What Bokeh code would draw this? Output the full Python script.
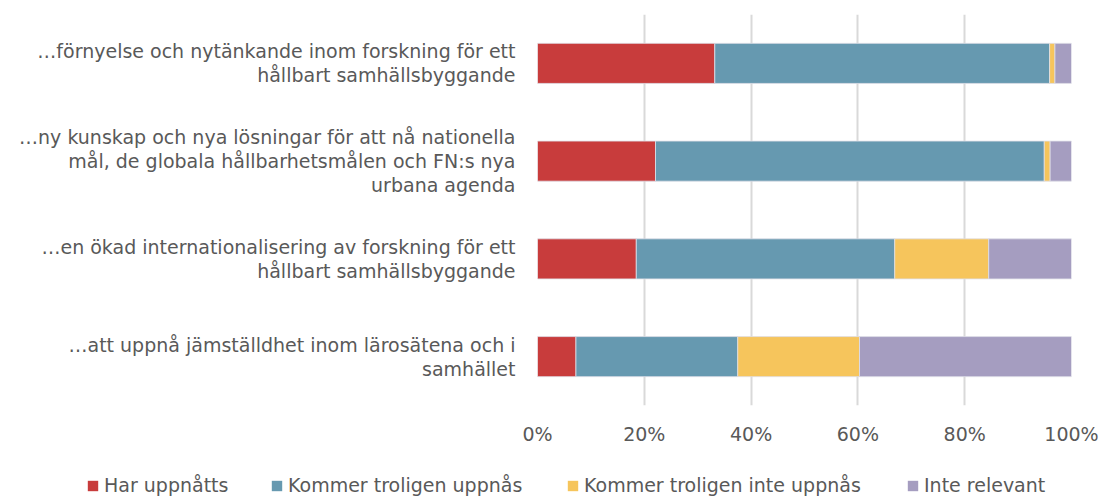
from bokeh.plotting import figure
from bokeh.layouts import column, row
from bokeh.models import NumeralTickFormatter, FixedTicker, Legend, LegendItem
from bokeh.embed import file_html
from bokeh.resources import INLINE

categories = [
    "…förnyelse och nytänkande inom forskning för ett\nhållbart samhällsbyggande",
    "…ny kunskap och nya lösningar för att nå nationella\nmål, de globala hållbarhetsmålen och FN:s nya\nurbana agenda",
    "…en ökad internationalisering av forskning för ett\nhållbart samhällsbyggande",
    "…att uppnå jämställdhet inom lärosätena och i\nsamhället",
]
series_names = ["Har uppnåtts", "Kommer troligen uppnås", "Kommer troligen inte uppnås", "Inte relevant"]
har = [0.332, 0.221, 0.185, 0.072]
kommer = [0.627, 0.728, 0.484, 0.303]
inte_uppnas = [0.010, 0.011, 0.176, 0.228]
inte_relevant = [0.031, 0.040, 0.155, 0.397]
colors = ["#C83C3C", "#6699B0", "#F6C55C", "#A59DC0"]
ticks = [0, 0.2, 0.4, 0.6, 0.8, 1.0]

FONT = "DejaVu Sans"
TXT = "#595959"
FS = "19px"

p = figure(width=1104, height=462, y_range=list(reversed(categories)), x_range=(0, 1),
           output_backend="svg", toolbar_location=None,
           min_border_left=537, min_border_right=33, min_border_top=14, min_border_bottom=57)
p.outline_line_color = None

data = dict(y=categories, har=har, kommer=kommer, inte_uppnas=inte_uppnas, inte_relevant=inte_relevant)
keys = ["har", "kommer", "inte_uppnas", "inte_relevant"]
p.hbar_stack(keys, y="y", height=0.41, color=colors, source=data,
             line_color="#E0E0E8", line_width=0.8)

p.xaxis.ticker = FixedTicker(ticks=ticks)
p.xaxis.formatter = NumeralTickFormatter(format="0%")
p.xaxis.axis_line_color = None
p.xaxis.major_tick_line_color = None
p.xaxis.minor_tick_line_color = None
p.xaxis.major_label_text_font = FONT
p.xaxis.major_label_text_font_size = FS
p.xaxis.major_label_text_color = TXT
p.xaxis.major_label_standoff = 11

p.yaxis.axis_line_color = None
p.yaxis.major_tick_line_color = None
p.yaxis.minor_tick_line_color = None
p.yaxis.major_label_text_font = FONT
p.yaxis.major_label_text_font_size = FS
p.yaxis.major_label_text_color = TXT
p.yaxis.major_label_text_line_height = 1.1
p.yaxis.major_label_standoff = 16

p.ygrid.grid_line_color = None
p.xgrid.grid_line_color = "#D9D9D9"
p.xgrid.grid_line_width = 2

# legend strip below the chart
lg = figure(width=1104, height=34, x_range=(0, 1), y_range=(0, 1),
            output_backend="svg", toolbar_location=None,
            x_axis_location=None, y_axis_location=None,
            min_border_left=0, min_border_right=0, min_border_top=0, min_border_bottom=0)
lg.outline_line_color = None
lg.grid.visible = False
legend_x = [86, 270, 566, 906]
for name, c, lx in zip(series_names, colors, legend_x):
    r = lg.hbar(y=[0.5], left=[0], right=[0], height=0, fill_color=c, line_color=None)
    leg = Legend(items=[LegendItem(label=name, renderers=[r])], location=(lx, 0),
                 orientation="horizontal")
    leg.label_text_font = FONT
    leg.label_text_font_size = FS
    leg.label_text_color = TXT
    leg.glyph_width = 13
    leg.glyph_height = 13
    leg.label_standoff = 5
    leg.border_line_color = None
    leg.background_fill_alpha = 0
    leg.padding = 0
    leg.margin = 0
    lg.add_layout(leg)

layout = column(row(p), row(lg), spacing=0)
open("out.html", "w").write(file_html(layout, INLINE))
